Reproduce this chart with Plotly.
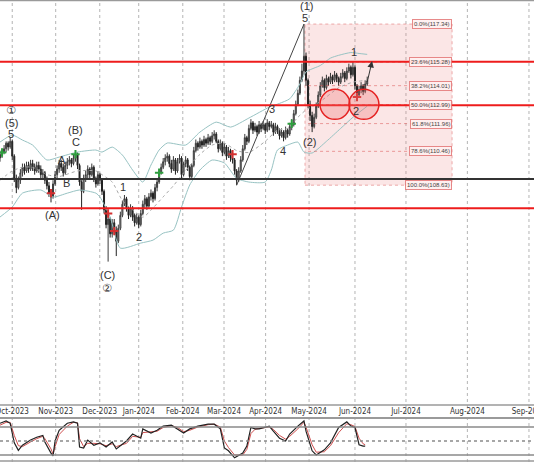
import plotly.graph_objects as go

# ---------------- data (bar index = trading day) ----------------
opens = [110.1,110.3,110.4,110.6,110.9,110.7,111.0,110.2,109.0,108.5,
         108.9,109.3,109.6,109.4,109.7,109.5,109.8,109.6,109.4,109.7,
         109.5,109.2,109.3,108.9,108.6,108.2,108.0,108.7,109.2,109.5,
         109.8,109.6,109.3,109.7,109.9,110.0,109.8,110.1,110.3,109.7,
         108.8,108.3,109.0,109.2,109.5,109.2,109.6,109.0,108.7,109.2,
         108.9,108.3,107.3,106.5,106.8,106.0,106.6,106.2,105.6,106.3,
         107.0,107.6,107.9,107.4,107.0,107.4,107.0,106.6,106.9,106.5,
         107.1,107.6,107.9,107.5,108.0,108.2,107.9,108.5,108.8,109.3,
         109.6,109.9,110.1,110.2,109.8,109.5,110.0,109.4,109.9,110.1,
         109.2,109.8,110.0,109.6,109.1,109.7,110.5,110.9,110.7,111.0,
         110.8,111.1,110.9,111.2,111.0,111.3,111.4,111.0,110.6,110.9,
         110.4,110.7,110.2,110.5,110.1,110.0,109.4,108.9,109.4,110.0,
         110.6,111.2,111.0,111.7,112.0,111.6,111.8,111.5,111.9,111.7,
         111.9,111.6,112.0,111.8,111.9,111.5,111.8,111.6,111.3,111.5,
         111.2,111.6,111.4,111.8,111.9,112.5,113.0,113.6,114.3,114.8,
         115.6,114.3,113.0,112.4,111.8,112.3,112.9,113.5,114.0,114.3,
         113.9,114.4,114.2,114.5,114.3,114.6,114.4,114.2,114.5,114.7,
         114.4,114.8,115.0,114.6,115.0,114.0,113.5,113.8,114.0,113.7,
         114.1]
closes = [110.3,110.4,110.6,110.9,110.7,111.0,110.2,109.0,108.5,108.9,
          109.3,109.6,109.4,109.7,109.5,109.8,109.6,109.4,109.7,109.5,
          109.2,109.3,108.9,108.6,108.2,108.0,108.7,109.2,109.5,109.8,
          109.6,109.3,109.7,109.9,110.0,109.8,110.1,110.3,109.7,108.8,
          108.3,109.0,109.2,109.5,109.2,109.6,109.0,108.7,109.2,108.9,
          108.3,107.3,106.5,106.8,106.0,106.6,106.2,105.6,106.3,107.0,
          107.6,107.9,107.4,107.0,107.4,106.9,106.6,106.9,106.5,107.1,
          107.6,107.9,107.5,108.0,108.2,107.9,108.5,108.8,109.3,109.6,
          109.9,110.1,110.2,109.8,109.5,110.0,109.4,109.9,110.1,109.2,
          109.8,110.0,109.6,109.1,109.7,110.5,110.9,110.7,111.0,110.8,
          111.1,110.9,111.2,111.0,111.3,111.4,111.0,110.6,110.9,110.4,
          110.7,110.2,110.5,110.1,110.0,109.4,108.9,109.4,110.0,110.6,
          111.2,111.0,111.7,112.0,111.6,111.8,111.5,111.9,111.7,111.9,
          111.6,112.0,111.8,111.9,111.5,111.8,111.6,111.3,111.5,111.2,
          111.6,111.4,111.8,111.9,112.5,113.0,113.6,114.3,114.8,115.6,
          114.3,113.0,112.4,111.8,112.3,112.9,113.5,114.0,114.3,113.9,
          114.4,114.2,114.5,114.3,114.6,114.4,114.2,114.5,114.7,114.4,
          114.8,115.0,114.6,115.0,114.0,113.5,113.8,114.0,113.7,114.1,
          114.3]
highs = [110.5,110.6,110.8,111.0,111.0,111.23,111.1,110.3,109.2,109.1,
         109.5,109.8,109.8,109.9,109.9,110.0,110.0,109.8,109.9,109.9,
         109.7,109.5,109.4,109.1,108.8,108.4,108.9,109.4,109.7,110.0,
         110.0,109.8,109.9,110.1,110.2,110.1,110.3,110.4,110.4,109.8,
         108.9,109.2,109.4,109.7,109.6,109.8,109.7,109.1,109.4,109.3,
         109.0,108.4,107.5,107.2,106.9,106.8,106.8,106.4,106.5,107.2,
         107.8,108.1,108.0,107.5,107.6,107.5,107.1,107.1,107.0,107.3,
         107.8,108.1,108.0,108.2,108.4,108.3,108.7,109.0,109.5,109.8,
         110.1,110.3,110.4,110.3,110.0,110.2,110.1,110.1,110.3,110.2,
         109.9,110.2,110.1,109.7,109.8,110.7,111.1,111.0,111.2,111.1,
         111.3,111.2,111.4,111.3,111.5,111.6,111.5,111.1,111.1,111.0,
         110.9,110.8,110.7,110.6,110.4,110.1,109.5,109.6,110.2,110.8,
         111.4,111.3,111.9,112.2,112.1,112.0,111.9,112.1,112.0,112.1,
         112.0,112.2,112.1,112.1,112.0,112.0,111.9,111.7,111.7,111.6,
         111.8,111.7,112.0,112.2,112.7,113.2,113.8,114.5,115.2,117.34,
         115.8,114.4,113.2,112.6,112.5,113.1,113.7,114.2,114.5,114.4,
         114.6,114.5,114.7,114.6,114.8,114.7,114.5,114.7,114.9,114.8,
         115.0,115.2,115.1,115.3,115.1,114.1,114.0,114.2,114.1,114.3,
         114.5]
lows = [109.9,110.1,110.3,110.4,110.5,110.6,110.0,108.8,108.2,108.4,
        108.7,109.1,109.2,109.3,109.3,109.4,109.4,109.2,109.3,109.3,
        109.0,109.0,108.7,108.4,108.0,107.7,107.9,108.6,109.0,109.3,
        109.4,109.1,109.2,109.5,109.7,109.6,109.7,109.9,109.5,108.6,
        107.3,108.2,108.8,109.0,109.0,109.1,108.8,108.5,108.6,108.7,
        108.1,107.1,106.3,104.5,105.8,105.8,106.0,104.8,105.5,106.2,
        106.9,107.5,107.2,106.8,106.9,106.7,106.4,106.5,106.3,106.4,
        107.0,107.4,107.3,107.4,107.8,107.7,107.8,108.3,108.7,109.2,
        109.5,109.7,109.9,109.6,109.3,109.4,109.2,109.3,109.8,109.0,
        109.1,109.6,109.4,108.9,109.0,109.6,110.4,110.5,110.6,110.6,
        110.7,110.7,110.8,110.8,110.9,111.1,110.9,110.4,110.5,110.2,
        110.3,110.0,110.1,109.9,109.8,109.2,108.63,108.8,109.3,109.9,
        110.5,110.8,110.9,111.6,111.4,111.5,111.3,111.4,111.5,111.6,
        111.4,111.5,111.6,111.7,111.3,111.4,111.4,111.1,111.2,111.0,
        111.1,111.2,111.3,111.6,111.8,112.4,112.9,113.5,114.2,114.6,
        114.0,112.8,112.1,111.5,111.7,112.2,112.8,113.4,113.9,113.7,
        113.8,114.0,114.1,114.1,114.2,114.2,114.0,114.1,114.4,114.2,
        114.3,114.7,114.4,114.5,113.8,113.3,113.4,113.6,113.5,113.6,
        114.0]
bars = list(range(len(closes)))

# Bollinger bands
bb_upper_idx = [0, 6, 11, 16, 23, 29, 38, 47, 50, 55, 60, 65, 70, 74, 78, 82, 91, 98, 106, 113, 122, 132, 137, 142, 147, 150, 157, 162, 166, 172, 176, 180]
bb_upper = [110.96, 111.34, 111.07, 110.80, 109.99, 110.15, 110.42, 110.53, 110.42, 110.69, 110.26, 109.45, 108.80, 109.72, 110.53, 110.91, 110.80, 111.50, 112.04, 111.77, 112.26, 112.85, 113.05, 113.30, 114.10, 114.75, 115.10, 115.50, 115.65, 115.80, 115.75, 115.70]
bb_lower_idx = [0, 6, 11, 20, 26, 33, 39, 47, 49, 54, 59, 69, 75, 80, 85, 89, 93, 98, 104, 110, 116, 122, 130, 133, 136, 141, 146, 149, 153, 160, 167, 173, 180]
bb_lower = [106.91, 107.45, 108.20, 108.37, 107.99, 108.20, 108.37, 108.20, 107.99, 106.91, 105.23, 105.50, 105.66, 106.04, 106.20, 107.45, 108.64, 109.45, 109.99, 109.83, 109.00, 108.80, 108.80, 109.45, 110.53, 110.80, 110.96, 110.42, 110.37, 111.00, 111.70, 112.30, 112.90]
bb_mid_idx = [0, 6, 11, 16, 23, 29, 38, 47, 50, 55, 60, 65, 70, 75, 80, 85, 90, 98, 104, 110, 116, 122, 130, 136, 141, 146, 150, 155, 160, 166, 173, 180]
bb_mid = [108.9, 109.4, 109.6, 109.6, 109.2, 109.1, 109.4, 109.4, 109.2, 108.8, 107.8, 107.3, 106.9, 107.4, 108.0, 108.6, 109.3, 110.3, 110.8, 110.9, 110.5, 110.4, 111.0, 111.6, 111.7, 112.3, 112.7, 113.0, 113.4, 113.9, 114.2, 114.3]

# horizontal levels
red_levels = [115.3, 112.95, 107.38]
black_levels = [108.96]

# fibonacci retracement box
fib_pcts = ["0.0%", "23.6%", "38.2%", "50.0%", "61.8%", "78.6%", "100.0%"]
fib_prices = [117.34, 115.28, 114.01, 112.99, 111.96, 110.46, 108.63]
fib_start, fib_line_end, fib_end = 149.5, 204.5, 221.6

# wave line (March low -> wave (1) top)
wave_idx = [116, 149]
wave_price = [108.63, 117.34]

# wave labels
label_text = ["①", "(5)", "5", "(B)", "C", "A", "B", "(A)", "1", "2", "(C)", "②",
              "3", "4", "(1)", "5", "(2)", "1", "2"]
label_idx = [5.4, 5.4, 5.4, 36.8, 37.3, 30.4, 32.4, 25.5, 60.3, 68.1, 52.5, 52.5,
             133.3, 138.7, 150.0, 149.5, 151.5, 173.5, 174.5]
label_price = [112.72, 111.99, 111.42, 111.60, 110.94, 109.99, 108.75, 107.02, 108.53, 105.83, 103.80, 103.08,
               112.75, 110.48, 118.31, 117.66, 110.96, 115.83, 112.64]

# signal markers
green_idx = [1, 37, 78, 143]
green_price = [110.4, 110.3, 109.3, 111.95]
red_idx = [25, 53, 56, 114, 175]
red_price = [108.2, 107.1, 106.15, 110.3, 113.4]

# support zones (circles)
circle_idx = [164.2, 178.4]
circle_price = [113.0, 113.0]

# projected arrow
arrow_from = (179.9, 114.15)
arrow_to = (182.4, 115.34)

# stochastic oscillator
stoch_idx = [0, 3, 5, 7, 9, 11, 15, 18, 21, 22, 25, 26, 27, 29, 33, 36, 38, 39, 41, 43, 46, 49, 52, 55, 57,
             62, 65, 69, 70, 74, 77, 80, 84, 87, 90, 93, 97, 102, 105, 108, 110, 112, 115, 119, 121, 123,
             125, 127, 132, 134, 137, 140, 142, 146, 149, 150, 153, 155, 159, 162, 166, 170, 172, 174, 176, 178, 179]
stoch_k = [88, 93, 88, 46, 30, 41, 52, 58, 62, 48, 24, 18, 50, 73, 88, 91, 88, 37, 35, 52, 41, 46, 37, 48, 33,
           50, 65, 56, 76, 67, 73, 82, 84, 76, 67, 76, 82, 86, 86, 76, 35, 29, 14, 24, 39, 79,
           76, 76, 82, 71, 56, 50, 65, 82, 93, 71, 29, 20, 31, 46, 79, 91, 82, 79, 42, 39, 39]
stoch_d = [84, 90, 90, 62, 40, 38, 48, 55, 60, 55, 33, 22, 38, 64, 82, 90, 89, 55, 38, 45, 45, 44, 40, 44, 38,
           45, 60, 58, 68, 70, 71, 79, 83, 79, 70, 73, 80, 85, 86, 80, 50, 36, 20, 20, 32, 66,
           75, 77, 80, 75, 62, 54, 60, 76, 90, 80, 42, 26, 27, 40, 68, 87, 85, 81, 56, 44, 42]
stoch_levels = [80, 50, 20]

# date axis
tick_pos = [6.0, 27.3, 48.9, 68.0, 89.6, 109.8, 130.2, 151.5, 174.0, 199.0, 229.1, 259.3]
tick_labels = ["Oct-2023", "Nov-2023", "Dec-2023", "Jan-2024", "Feb-2024", "Mar-2024",
               "Apr-2024", "May-2024", "Jun-2024", "Jul-2024", "Aug-2024", "Sep-2024"]

X_RANGE = [0, 261.76]
FONT = "Liberation Sans, Arial, DejaVu Sans, sans-serif"
TICK_FONT = "Liberation Sans Narrow, DejaVu Sans Condensed, Liberation Sans, sans-serif"

fig = go.Figure()

# Bollinger bands
fig.add_trace(go.Scatter(x=bb_upper_idx, y=bb_upper, mode="lines",
                         line=dict(color="#98c3c3", width=1, shape="spline", smoothing=0.6), hoverinfo="skip"))
fig.add_trace(go.Scatter(x=bb_lower_idx, y=bb_lower, mode="lines",
                         line=dict(color="#98c3c3", width=1, shape="spline", smoothing=0.6), hoverinfo="skip"))
fig.add_trace(go.Scatter(x=bb_mid_idx, y=bb_mid, mode="lines",
                         line=dict(color="#a8a8a8", width=1, dash="dot", shape="spline", smoothing=0.6), hoverinfo="skip"))

# price candles
fig.add_trace(go.Candlestick(x=bars, open=opens, high=highs, low=lows, close=closes,
                             increasing=dict(line=dict(color="#3a3a3a", width=1), fillcolor="#bdbdbd"),
                             decreasing=dict(line=dict(color="#222222", width=1), fillcolor="#222222"),
                             whiskerwidth=0, hoverinfo="skip"))

# wave line
fig.add_trace(go.Scatter(x=wave_idx, y=wave_price, mode="lines",
                         line=dict(color="#444444", width=1), hoverinfo="skip"))

# signal markers
fig.add_trace(go.Scatter(x=green_idx, y=green_price, mode="markers",
                         marker=dict(symbol="cross-thin", size=6, line=dict(color="#2e9e3e", width=2)), hoverinfo="skip"))
fig.add_trace(go.Scatter(x=red_idx, y=red_price, mode="markers",
                         marker=dict(symbol="cross-thin", size=6, line=dict(color="#d23030", width=2)), hoverinfo="skip"))

# stochastic
fig.add_trace(go.Scatter(x=stoch_idx, y=stoch_d, mode="lines", xaxis="x2", yaxis="y2",
                         line=dict(color="#d05050", width=1), hoverinfo="skip"))
fig.add_trace(go.Scatter(x=stoch_idx, y=stoch_k, mode="lines", xaxis="x2", yaxis="y2",
                         line=dict(color="#222222", width=1.2), hoverinfo="skip"))

shapes = []
# vertical dotted grid through all panels
for t in tick_pos:
    shapes.append(dict(type="line", xref="x", yref="paper", x0=t, x1=t, y0=0, y1=1,
                       line=dict(color="#b4b4b4", width=1, dash="dot"), layer="below"))
# fib box
shapes.append(dict(type="rect", xref="x", yref="y", x0=fib_start, x1=fib_end,
                   y0=fib_prices[-1], y1=fib_prices[0], fillcolor="rgba(236,130,130,0.2)",
                   line=dict(color="rgba(225,120,120,0.6)", width=1, dash="dot"), layer="below"))
for p in fib_prices[1:-1]:
    shapes.append(dict(type="line", xref="x", yref="y", x0=fib_start + 1.5, x1=fib_line_end, y0=p, y1=p,
                       line=dict(color="rgba(220,90,90,0.55)", width=1, dash="dot")))
# horizontal levels
for p in red_levels:
    shapes.append(dict(type="line", xref="paper", yref="y", x0=0, x1=1, y0=p, y1=p,
                       line=dict(color="#ee1c1c", width=2)))
for p in black_levels:
    shapes.append(dict(type="line", xref="paper", yref="y", x0=0, x1=1, y0=p, y1=p,
                       line=dict(color="#333333", width=2)))
# circles
for ci, cp in zip(circle_idx, circle_price):
    shapes.append(dict(type="circle", xref="x", yref="y", x0=ci - 7.35, x1=ci + 7.35,
                       y0=cp - 0.81, y1=cp + 0.81, fillcolor="rgba(240,110,110,0.3)",
                       line=dict(color="#e52222", width=1.5)))
# stochastic levels
for lv in stoch_levels:
    shapes.append(dict(type="line", xref="paper", yref="y2", x0=0, x1=1, y0=lv, y1=lv,
                       line=dict(color="#8a8a8a", width=1.5, dash="dot" if lv == 50 else "solid")))
# panel frame lines
for yy, w in [(0.999, 1.5), (0.1234, 1.5), (0.0952, 2), (0.002, 1.5)]:
    shapes.append(dict(type="line", xref="paper", yref="paper", x0=0, x1=1, y0=yy, y1=yy,
                       line=dict(color="#9a9a9a", width=w)))

annotations = []
for t, xi, yp in zip(label_text, label_idx, label_price):
    annotations.append(dict(x=xi, y=yp, xref="x", yref="y", text=t, showarrow=False,
                            font=dict(family=FONT, size=11, color="#333333")))
for pct, p in zip(fib_pcts, fib_prices):
    annotations.append(dict(x=fib_end - 0.2, y=p, xref="x", yref="y", text=f"{pct}({p:.2f})",
                            showarrow=False, xanchor="right",
                            font=dict(family=FONT, size=6, color="#444444"),
                            bgcolor="rgba(255,240,240,0.9)", bordercolor="rgba(225,110,110,0.8)",
                            borderwidth=1, borderpad=1))
annotations.append(dict(x=arrow_to[0], y=arrow_to[1], ax=arrow_from[0], ay=arrow_from[1],
                        xref="x", yref="y", axref="x", ayref="y", text="", showarrow=True,
                        arrowhead=2, arrowsize=1.3, arrowwidth=1, arrowcolor="#333333"))

fig.update_layout(
    width=534, height=462, margin=dict(l=0, r=0, t=0, b=0, autoexpand=False),
    paper_bgcolor="white", plot_bgcolor="white", showlegend=False, hovermode=False,
    shapes=shapes, annotations=annotations,
    xaxis=dict(domain=[0, 1], range=X_RANGE, anchor="y", tickvals=tick_pos, ticktext=tick_labels,
               showgrid=False, zeroline=False, ticks="", showline=False, tickangle=0, automargin=False,
               ticklabeloverflow="allow",
               tickfont=dict(family=TICK_FONT, size=8, color="#333333"), rangeslider=dict(visible=False)),
    yaxis=dict(domain=[0.1234, 1], range=[96.75, 118.64], showticklabels=False,
               showgrid=False, zeroline=False, automargin=False),
    xaxis2=dict(domain=[0, 1], range=X_RANGE, anchor="y2", showticklabels=False,
                showgrid=False, zeroline=False, matches="x", automargin=False),
    yaxis2=dict(domain=[0, 0.0952], range=[5, 99.3], showticklabels=False,
                showgrid=False, zeroline=False, automargin=False),
)

fig.write_html("out.html", config={"displayModeBar": False, "staticPlot": True},
               post_script="document.body.style.margin='0';document.body.style.overflow='hidden';")
